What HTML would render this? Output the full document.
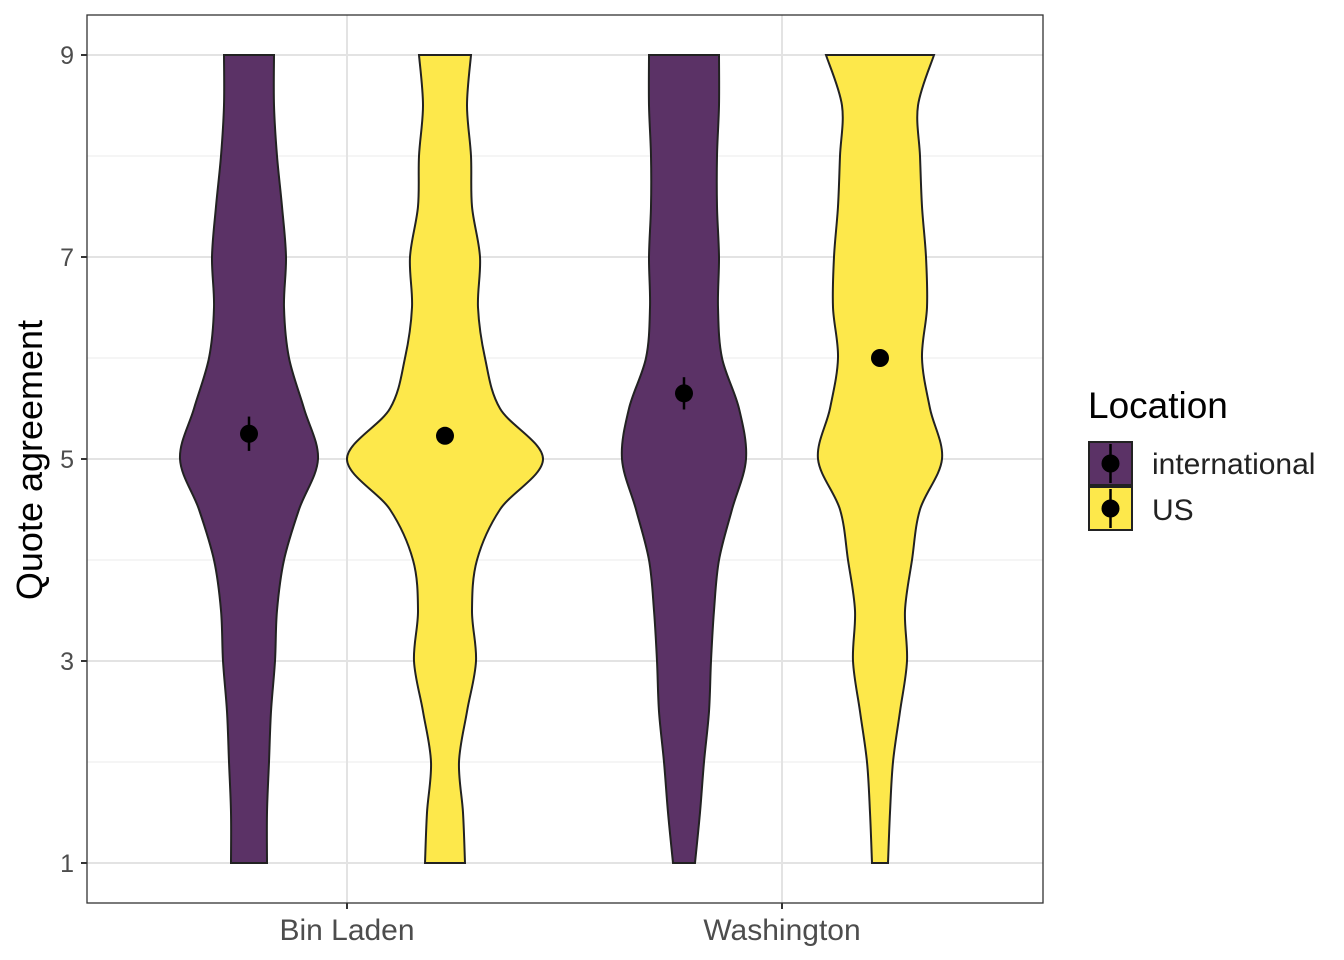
<!DOCTYPE html>
<html><head><meta charset="utf-8"><style>body{margin:0;background:#fff}svg{display:block;font-family:"Liberation Sans",Arial,sans-serif}</style></head>
<body>
<svg id="chart" width="1344" height="960" viewBox="0 0 1344 960">
<rect x="0" y="0" width="1344" height="960" fill="#fff"/>
<g id="grid"></g>
<g id="violins"></g>
<g id="axes"></g>
<text x="42" y="460" font-size="36" fill="#000" text-anchor="middle" transform="rotate(-90 42 460)">Quote agreement</text>
<g>
<text x="1088" y="418" font-size="37" fill="#000">Location</text>
<g>
<rect x="1089" y="442" width="43" height="43" fill="#5b3266" stroke="#222" stroke-width="2"/>
<line x1="1110.5" y1="444" x2="1110.5" y2="483" stroke="#000" stroke-width="2.5"/>
<circle cx="1110.5" cy="463.5" r="9" fill="#000"/>
<text x="1152" y="474" font-size="30" fill="#222">international</text></g>
<g>
<rect x="1089" y="487" width="43" height="43" fill="#fde84b" stroke="#222" stroke-width="2"/>
<line x1="1110.5" y1="489" x2="1110.5" y2="528" stroke="#000" stroke-width="2.5"/>
<circle cx="1110.5" cy="508.5" r="9" fill="#000"/>
<text x="1152" y="520" font-size="30" fill="#222">US</text></g>
</g>
</svg>
<script>
const categories = ["Bin Laden", "Washington"];
const groups = ["international", "US"];
const densityLevels = [1,1.5,2,2.5,3,3.5,4,4.5,5,5.5,6,6.5,7,7.5,8,8.5,9];
const widthBinLadenIntl = [18,18,20,22,26,28,35,50,69,55,40,35,37,33,28,25,25];
const widthBinLadenUS = [20,18,14,22,31,27,32,55,98,55,40,33,35,27,26,22,26];
const widthWashingtonIntl = [11,16,20,25,27,30,35,48,62,55,38,34,35,33,33,35,35];
const widthWashingtonUS = [8,10,13,20,27,25,32,40,62,50,42,47,46,42,40,38,54];
const meansIntl = [5.25, 5.65];
const meansUS = [5.23, 6.0];
const seIntl = [0.17, 0.16];
const seUS = [0.08, 0.07];
const yTicks = [1,3,5,7,9];
const yMinor = [2,4,6,8];

const NS="http://www.w3.org/2000/svg";
const pl=87,pr=1043,pt=15,pb=903;
const y=v=>863-(v-1)*101;
const xCat=i=>347+i*435;
const dodge=g=>g===0?-98:98;
const colors=["#5b3266","#fde84b"];
function mk(tag,attrs,parent){const e=document.createElementNS(NS,tag);for(const k in attrs)e.setAttribute(k,attrs[k]);parent.appendChild(e);return e;}
const grid=document.getElementById('grid'),vg=document.getElementById('violins'),ax=document.getElementById('axes');
mk('rect',{x:pl,y:pt,width:pr-pl,height:pb-pt,fill:'#fff'},grid);
yMinor.forEach(v=>{const l=mk('line',{x1:pl,x2:pr,y1:y(v),y2:y(v),stroke:'#ebebeb','stroke-width':1},grid);

});
yTicks.forEach(v=>{const l=mk('line',{x1:pl,x2:pr,y1:y(v),y2:y(v),stroke:'#e3e3e3','stroke-width':2},grid);

});
categories.forEach((c,i)=>{const l=mk('line',{x1:xCat(i),x2:xCat(i),y1:pt,y2:pb,stroke:'#e3e3e3','stroke-width':2},grid);

});
function violinPath(cx,w){
  const pts=densityLevels.map((d,k)=>[y(d),w[k]]);
  function side(sign,rev){
    let arr=pts.map(p=>[cx+sign*p[1],p[0]]);if(rev)arr=arr.slice().reverse();
    let s='';
    for(let k=0;k<arr.length-1;k++){
      const p0=arr[Math.max(k-1,0)],p1=arr[k],p2=arr[k+1],p3=arr[Math.min(k+2,arr.length-1)];
      const c1=[p1[0]+(p2[0]-p0[0])/6,p1[1]+(p2[1]-p0[1])/6],c2=[p2[0]-(p3[0]-p1[0])/6,p2[1]-(p3[1]-p1[1])/6];
      s+=` C${c1[0]},${c1[1]} ${c2[0]},${c2[1]} ${p2[0]},${p2[1]}`;
    }
    return {start:arr[0],s};
  }
  const L=side(-1,false),R=side(1,true);
  return `M${L.start[0]},${L.start[1]}${L.s} L${R.start[0]},${R.start[1]}${R.s} Z`;
}
const widths=[[widthBinLadenIntl,widthBinLadenUS],[widthWashingtonIntl,widthWashingtonUS]];
const means=[meansIntl,meansUS],ses=[seIntl,seUS];
categories.forEach((c,i)=>{groups.forEach((g,j)=>{
  const cx=xCat(i)+dodge(j);
  const p=mk('path',{d:violinPath(cx,widths[i][j]),fill:colors[j],stroke:'#222','stroke-width':2},vg);
  
  
  const m=means[j][i],se=ses[j][i];
  const eb=mk('line',{x1:cx,x2:cx,y1:y(m-se),y2:y(m+se),stroke:'#000','stroke-width':2.5},vg);
  
  
  const pt2=mk('circle',{cx:cx,cy:y(m),r:9,fill:'#000'},vg);
  
  
});});
mk('rect',{x:pl,y:pt,width:pr-pl,height:pb-pt,fill:'none',stroke:'#333','stroke-width':1.3},ax);
yTicks.forEach(v=>{mk('line',{x1:pl-6,x2:pl,y1:y(v),y2:y(v),stroke:'#333','stroke-width':2},ax);
const t=mk('text',{x:pl-13,y:y(v)+9,'font-size':25,fill:'#4d4d4d','text-anchor':'end'},ax);t.textContent=v;

});
categories.forEach((c,i)=>{mk('line',{x1:xCat(i),x2:xCat(i),y1:pb,y2:pb+6,stroke:'#333','stroke-width':2},ax);
const t=mk('text',{x:xCat(i),y:940,'font-size':30,fill:'#4d4d4d','text-anchor':'middle'},ax);t.textContent=c;

});
</script>
</body></html>
